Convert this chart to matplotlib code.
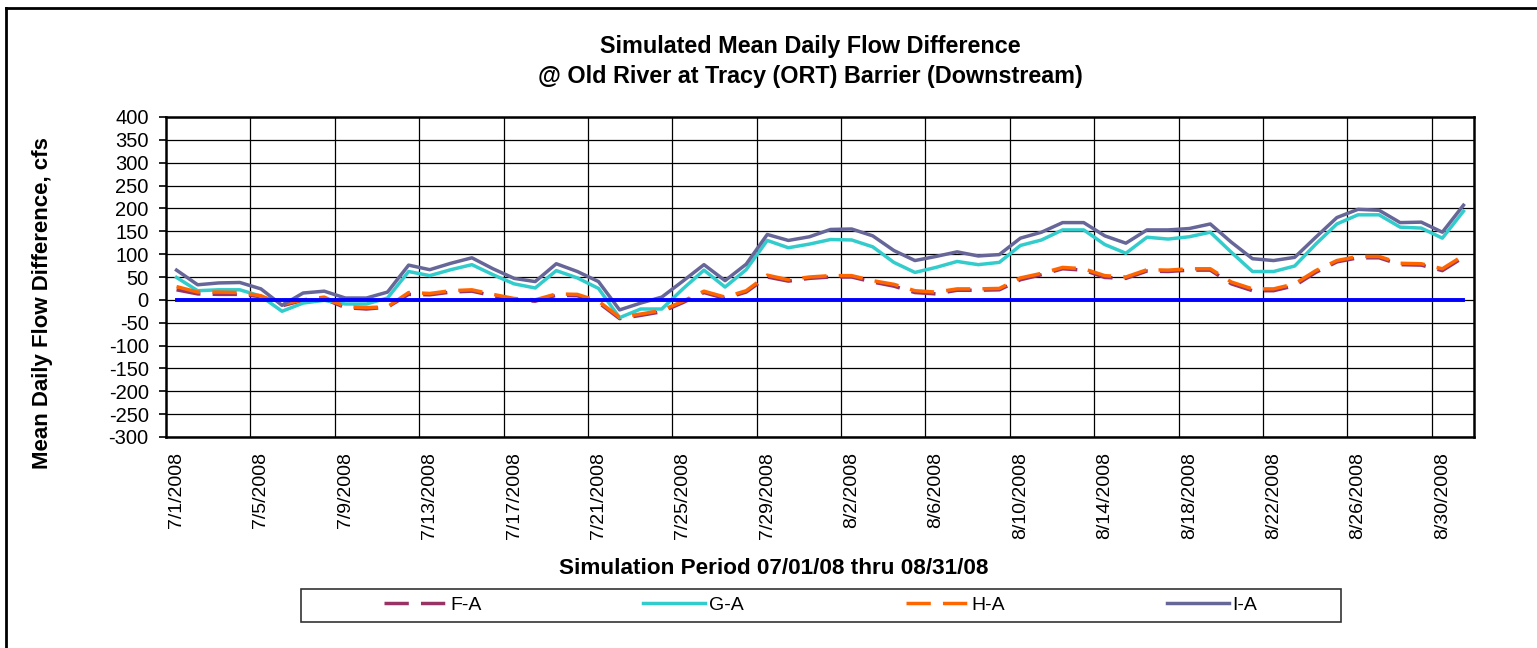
import numpy as np
import matplotlib
matplotlib.use("Agg")
import matplotlib.pyplot as plt
from matplotlib.lines import Line2D
from matplotlib.patches import Rectangle

plt.rcParams["font.family"] = ["Liberation Sans", "DejaVu Sans"]
plt.rcParams["axes.unicode_minus"] = False

# daily categories 7/1/2008 .. 8/31/2008
n_days = 62
tick_labels = [
    "7/1/2008", "7/5/2008", "7/9/2008", "7/13/2008", "7/17/2008", "7/21/2008",
    "7/25/2008", "7/29/2008", "8/2/2008", "8/6/2008", "8/10/2008", "8/14/2008",
    "8/18/2008", "8/22/2008", "8/26/2008", "8/30/2008",
]

f_a = [22, 13, 12, 12, 7, -13, -1, 2, -17, -20,
       -16, 12, 11, 17, 19, 9, 0, -3, 10, 9,
       -6, -41, -34, -26, -6, 16, 3, 17, 50, 41,
       47, 50, 50, 39, 30, 16, 13, 21, 21, 22,
       44, 55, 68, 65, 49, 47, 63, 62, 65, 65,
       35, 20, 20, 31, 60, 83, 92, 92, 77, 76,
       64, 93]
g_a = [49, 20, 22, 22, 8, -25, -7, -1, -9, -9,
       4, 62, 53, 66, 77, 55, 35, 26, 64, 48,
       25, -39, -20, -20, 24, 65, 28, 66, 130, 114,
       122, 132, 131, 116, 82, 60, 71, 84, 77, 82,
       119, 131, 153, 153, 121, 102, 137, 133, 138, 148,
       104, 62, 62, 74, 122, 166, 186, 186, 159, 157,
       135, 194]
h_a = [29, 17, 17, 16, 9, -10, 0, 6, -15, -17,
       -15, 16, 14, 20, 22, 12, 3, 0, 13, 12,
       -3, -38, -31, -23, -3, 19, 6, 20, 54, 44,
       50, 53, 53, 42, 34, 20, 17, 24, 24, 25,
       48, 58, 71, 68, 53, 50, 66, 65, 68, 68,
       39, 24, 24, 35, 64, 86, 95, 95, 80, 79,
       68, 97]
i_a = [65, 33, 37, 38, 24, -12, 15, 19, 4, 4,
       17, 76, 66, 80, 92, 68, 47, 40, 79, 62,
       40, -22, -7, 6, 41, 77, 42, 78, 143, 130,
       138, 154, 155, 140, 108, 86, 95, 105, 96, 99,
       135, 148, 169, 169, 140, 124, 153, 153, 156, 166,
       126, 90, 86, 93, 137, 180, 198, 196, 169, 170,
       148, 207]
baseline = [0] * n_days

W, H = 1537, 648
fig = plt.figure(figsize=(W / 100, H / 100), dpi=100)
ax = fig.add_axes([166 / W, 1 - 437 / H, (1474 - 166) / W, (437 - 117) / H])

x = np.arange(n_days)
dash = (7, 3.5)
ax.plot(x, f_a, color="#993366", lw=2.5, dashes=dash, label="F-A", zorder=3)
ax.plot(x, g_a, color="#33CCCC", lw=2.5, label="G-A", zorder=3)
ax.plot(x, h_a, color="#FF6600", lw=2.5, dashes=dash, label="H-A", zorder=3)
ax.plot(x, i_a, color="#666699", lw=2.5, label="I-A", zorder=3)
ax.plot(x, baseline, color="#0000FF", lw=2.8, zorder=4)

ax.set_xlim(-0.5, n_days - 0.5)
ax.set_ylim(-300, 400)
ax.set_yticks(np.arange(-300, 401, 50))
ax.set_xticks(np.arange(0, n_days, 4))
ax.set_xticklabels(tick_labels, rotation=90, fontsize=14)
ax.set_xticks(np.arange(3.5, n_days - 1, 4), minor=True)
ax.tick_params(axis="x", which="both", length=0, pad=11)
ax.tick_params(axis="y", labelsize=14.5, length=5, width=1.2, pad=7.5)
ax.grid(axis="y", color="black", lw=0.9, zorder=1)
ax.grid(axis="x", which="minor", color="black", lw=0.9, zorder=1)
for sp in ax.spines.values():
    sp.set_linewidth(1.8)

fig.text(810 / W, 1 - 46 / H, "Simulated Mean Daily Flow Difference",
         ha="center", va="center", fontsize=16.8, fontweight="bold")
fig.text(810 / W, 1 - 76 / H, "@ Old River at Tracy (ORT) Barrier (Downstream)",
         ha="center", va="center", fontsize=16.8, fontweight="bold")
fig.text(43 / W, 1 - 303 / H, "Mean Daily Flow Difference, cfs", rotation=90,
         ha="center", va="center", fontsize=16, fontweight="bold")
fig.text(774 / W, 1 - 568 / H, "Simulation Period 07/01/08 thru 08/31/08",
         ha="center", va="center", fontsize=16.2, fontweight="bold")

# legend box and entries
fig.add_artist(Rectangle((301 / W, 1 - 622 / H), (1341 - 301) / W, 33 / H,
                         transform=fig.transFigure, fill=False,
                         edgecolor="#333333", lw=1.2))
handles, labels = ax.get_legend_handles_labels()
fig.legend(handles, labels, loc="center", bbox_to_anchor=(821 / W, 1 - 605 / H),
           ncol=4, frameon=False, fontsize=14, handlelength=3.2,
           handletextpad=0.2, columnspacing=8.3)

# outer chart frame (left and top edges)
fig.add_artist(Line2D([6 / W, 6 / W], [0, 1 - 8 / H], transform=fig.transFigure,
                      color="black", lw=2))
fig.add_artist(Line2D([6 / W, 1], [1 - 8 / H, 1 - 8 / H], transform=fig.transFigure,
                      color="black", lw=2))

fig.savefig("out.png", dpi=100)
plt.close(fig)
